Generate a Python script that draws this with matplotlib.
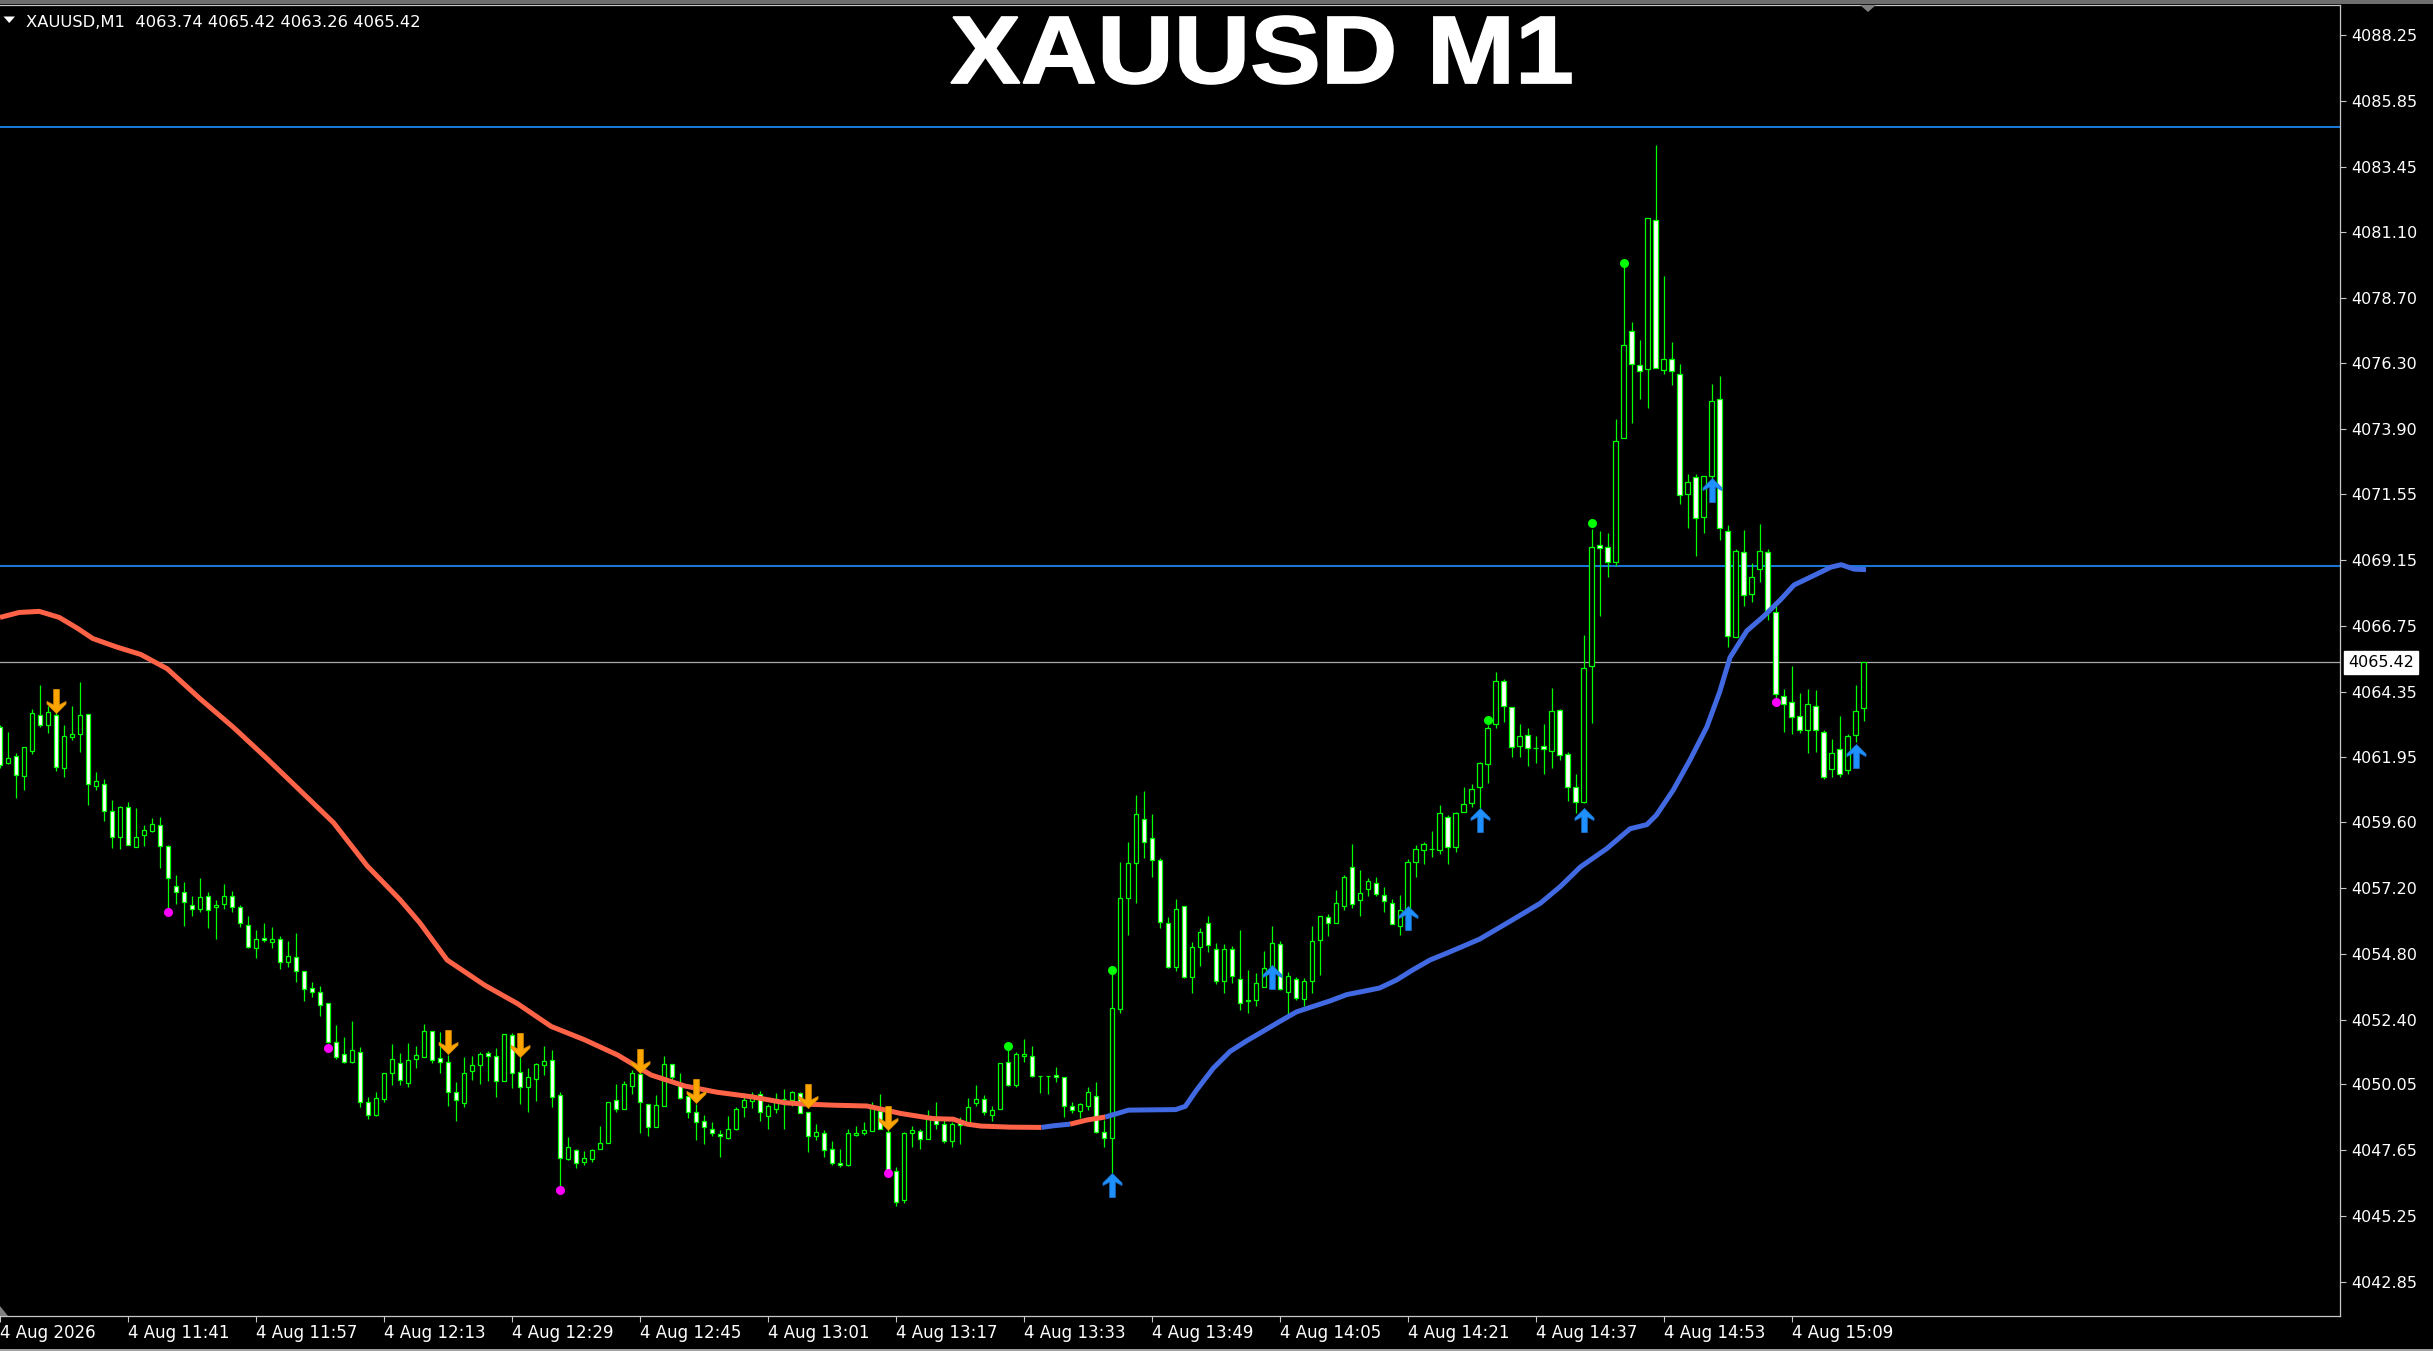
import numpy as np
import matplotlib.pyplot as plt
from matplotlib.path import Path
from matplotlib.patches import Polygon, PathPatch
from matplotlib.textpath import TextPath
from matplotlib.font_manager import FontProperties
from matplotlib.transforms import blended_transform_factory, Affine2D

symbol = 'XAUUSD'
period = 'M1'

# one-minute bars, first one at 11:25
opens = [4063.04, 4061.73, 4062.01, 4061.29, 4062.20, 4063.49, 4063.14, 4063.49, 4061.55, 4062.69,
         4062.81, 4063.53, 4060.90, 4060.97, 4059.99, 4059.04, 4060.15, 4058.69, 4059.13, 4059.27,
         4059.50, 4058.73, 4057.28, 4057.03, 4056.58, 4056.41, 4056.89, 4056.50, 4056.61, 4056.89,
         4056.51, 4055.85, 4055.00, 4055.38, 4055.24, 4055.32, 4054.51, 4054.69, 4054.16, 4053.56,
         4053.39, 4052.99, 4051.57, 4051.15, 4050.84, 4051.22, 4049.40, 4048.91, 4049.50, 4050.45,
         4050.82, 4050.09, 4050.96, 4051.05, 4051.99, 4050.99, 4050.84, 4049.77, 4049.37, 4050.52,
         4050.76, 4051.17, 4051.09, 4050.17, 4051.83, 4050.48, 4049.95, 4050.25, 4050.76, 4050.92,
         4049.64, 4047.33, 4047.63, 4047.21, 4047.31, 4047.70, 4047.92, 4049.46, 4049.13, 4049.99,
         4050.41, 4049.31, 4048.49, 4049.26, 4050.77, 4050.10, 4049.61, 4049.04, 4048.69, 4048.43,
         4048.22, 4048.10, 4048.43, 4049.22, 4049.44, 4049.68, 4048.89, 4049.13, 4049.49, 4049.47,
         4049.71, 4049.02, 4048.16, 4048.25, 4047.68, 4047.18, 4047.11, 4048.21, 4048.25, 4048.35,
         4049.08, 4048.32, 4046.89, 4045.81, 4048.25, 4048.33, 4048.05, 4048.74, 4048.61, 4047.98,
         4048.70, 4048.64, 4049.37, 4049.49, 4048.93, 4049.13, 4050.85, 4050.02, 4051.09, 4051.09,
         4050.34, 4050.34, 4050.37, 4050.30, 4049.25, 4049.05, 4049.25, 4049.63, 4048.31, 4048.10,
         4052.80, 4056.82, 4058.10, 4059.69, 4059.00, 4058.23, 4055.93, 4054.32, 4056.52, 4053.96,
         4055.05, 4055.91, 4054.96, 4053.81, 4054.96, 4053.86, 4053.10, 4053.13, 4053.59, 4053.84,
         4055.14, 4053.39, 4053.89, 4053.16, 4053.81, 4055.30, 4056.13, 4055.93, 4056.55, 4057.96,
         4056.74, 4057.15, 4057.37, 4056.93, 4056.66, 4055.82, 4056.39, 4058.14, 4058.59, 4058.61,
         4058.59, 4059.79, 4058.69, 4059.95, 4060.30, 4060.86, 4061.70, 4063.18, 4064.73, 4063.79,
         4062.35, 4062.78, 4062.31, 4062.35, 4062.20, 4063.69, 4062.07, 4060.86, 4060.34, 4065.27,
         4069.70, 4069.61, 4069.06, 4073.59, 4077.49, 4076.23, 4076.10, 4081.54, 4076.05, 4076.46,
         4075.93, 4071.56, 4072.16, 4070.71, 4072.21, 4075.00, 4070.21, 4066.33, 4069.43, 4067.92,
         4068.81, 4069.43, 4067.24, 4064.17, 4063.96, 4063.46, 4062.93, 4063.81, 4062.89, 4061.53,
         4062.24, 4061.50, 4062.75, 4063.74]
highs = [4063.13, 4062.86, 4062.11, 4062.32, 4063.70, 4064.58, 4063.84, 4063.60, 4063.14, 4063.84,
         4064.68, 4063.53, 4061.43, 4061.15, 4060.38, 4060.17, 4060.31, 4060.10, 4059.50, 4059.73,
         4059.78, 4058.77, 4057.65, 4057.42, 4056.89, 4057.56, 4057.03, 4056.75, 4057.35, 4057.08,
         4056.58, 4056.19, 4055.67, 4055.91, 4055.77, 4055.46, 4055.25, 4055.57, 4054.17, 4053.75,
         4053.64, 4053.02, 4052.19, 4051.77, 4052.33, 4051.40, 4049.58, 4049.75, 4050.47, 4051.52,
         4051.19, 4051.54, 4051.44, 4052.25, 4051.99, 4051.93, 4051.11, 4050.11, 4051.03, 4051.09,
         4051.21, 4051.26, 4051.36, 4051.87, 4051.90, 4051.05, 4050.62, 4050.81, 4051.44, 4051.30,
         4049.77, 4048.13, 4047.68, 4047.62, 4047.69, 4048.52, 4049.38, 4050.05, 4050.16, 4050.56,
         4050.93, 4049.31, 4049.65, 4051.08, 4050.79, 4050.44, 4049.71, 4049.34, 4048.92, 4048.68,
         4048.37, 4048.88, 4049.22, 4049.71, 4049.75, 4049.81, 4049.34, 4049.74, 4049.87, 4049.79,
         4049.77, 4049.04, 4048.61, 4048.39, 4047.97, 4047.70, 4048.43, 4048.52, 4048.67, 4049.38,
         4049.69, 4049.09, 4047.02, 4048.29, 4048.52, 4048.43, 4049.10, 4049.39, 4048.74, 4048.67,
         4048.86, 4049.53, 4050.02, 4049.65, 4049.25, 4050.81, 4051.29, 4051.20, 4051.70, 4051.44,
         4050.35, 4050.35, 4050.66, 4050.31, 4049.38, 4049.35, 4049.95, 4050.11, 4048.74, 4054.08,
         4058.14, 4058.87, 4060.58, 4060.73, 4059.88, 4058.29, 4056.13, 4056.78, 4056.53, 4055.24,
         4055.72, 4056.17, 4055.18, 4055.15, 4055.08, 4055.66, 4054.20, 4054.08, 4054.90, 4055.79,
         4055.26, 4054.12, 4053.96, 4053.90, 4055.81, 4056.17, 4056.25, 4057.13, 4057.65, 4058.81,
         4057.84, 4057.55, 4057.59, 4057.22, 4056.79, 4056.94, 4058.24, 4058.75, 4058.87, 4059.26,
         4060.21, 4059.85, 4059.95, 4060.86, 4060.97, 4061.77, 4063.13, 4065.07, 4064.80, 4063.79,
         4063.16, 4063.03, 4062.72, 4063.18, 4064.46, 4063.70, 4062.14, 4061.35, 4066.41, 4070.26,
         4070.18, 4070.12, 4074.28, 4079.81, 4077.82, 4077.17, 4081.61, 4084.27, 4079.50, 4077.08,
         4076.28, 4072.27, 4072.27, 4072.21, 4075.57, 4075.84, 4070.41, 4069.56, 4070.23, 4069.02,
         4070.44, 4069.56, 4067.45, 4064.44, 4065.29, 4064.31, 4064.44, 4064.40, 4062.96, 4062.63,
         4063.46, 4062.80, 4064.58, 4065.42]
lows = [4061.55, 4061.71, 4060.48, 4060.78, 4062.08, 4063.04, 4062.83, 4061.45, 4061.25, 4062.60,
        4062.15, 4060.20, 4060.78, 4059.64, 4058.66, 4058.62, 4058.75, 4058.69, 4058.73, 4059.22,
        4057.92, 4056.41, 4056.61, 4055.81, 4056.19, 4056.33, 4055.74, 4055.35, 4056.44, 4056.33,
        4055.77, 4055.02, 4054.65, 4055.22, 4055.01, 4054.23, 4054.31, 4053.78, 4053.06, 4053.22,
        4052.52, 4051.54, 4050.98, 4050.80, 4050.80, 4049.22, 4048.77, 4048.88, 4049.40, 4050.03,
        4050.03, 4049.94, 4050.63, 4051.05, 4050.83, 4050.44, 4049.26, 4048.71, 4049.22, 4050.20,
        4050.05, 4050.17, 4049.59, 4050.17, 4049.92, 4049.32, 4049.04, 4049.44, 4050.38, 4049.22,
        4046.32, 4047.29, 4046.98, 4047.09, 4047.20, 4047.70, 4047.92, 4049.04, 4049.13, 4049.69,
        4048.27, 4048.15, 4048.49, 4049.26, 4050.14, 4049.49, 4048.83, 4048.00, 4047.85, 4048.16,
        4047.41, 4048.03, 4048.39, 4048.86, 4049.19, 4048.71, 4048.43, 4048.98, 4048.43, 4049.25,
        4048.98, 4047.56, 4048.00, 4047.38, 4047.11, 4047.01, 4047.08, 4048.15, 4048.21, 4048.35,
        4048.42, 4046.81, 4045.62, 4045.73, 4047.76, 4047.70, 4048.05, 4048.42, 4047.91, 4047.74,
        4047.87, 4048.55, 4049.26, 4048.93, 4048.71, 4049.13, 4049.98, 4049.95, 4050.87, 4050.32,
        4049.71, 4049.69, 4050.14, 4048.86, 4048.98, 4048.80, 4049.10, 4048.27, 4047.76, 4046.81,
        4052.64, 4055.48, 4056.66, 4058.29, 4057.61, 4055.72, 4054.26, 4054.18, 4053.93, 4053.37,
        4054.35, 4054.87, 4053.71, 4053.35, 4053.74, 4052.76, 4052.64, 4052.88, 4053.59, 4053.77,
        4053.47, 4052.54, 4053.10, 4052.88, 4053.35, 4054.02, 4055.45, 4055.93, 4056.39, 4056.48,
        4056.17, 4056.91, 4056.91, 4056.30, 4055.87, 4055.48, 4056.27, 4057.61, 4058.06, 4058.33,
        4058.42, 4058.08, 4058.51, 4059.95, 4060.15, 4060.09, 4061.03, 4063.03, 4063.24, 4061.98,
        4061.98, 4061.62, 4061.76, 4061.34, 4061.58, 4061.84, 4060.37, 4059.93, 4060.30, 4063.19,
        4067.09, 4068.53, 4068.93, 4073.59, 4074.12, 4075.00, 4074.69, 4076.14, 4075.93, 4075.52,
        4071.19, 4070.32, 4069.29, 4070.14, 4071.77, 4069.87, 4065.98, 4066.33, 4067.45, 4067.61,
        4068.35, 4066.97, 4064.13, 4062.89, 4062.80, 4062.84, 4062.10, 4062.15, 4061.18, 4061.23,
        4061.23, 4061.35, 4062.51, 4063.26]
closes = [4061.67, 4061.94, 4061.32, 4062.32, 4063.57, 4063.14, 4063.62, 4061.60, 4062.72, 4062.79,
          4063.50, 4060.99, 4061.08, 4059.99, 4059.04, 4060.13, 4058.77, 4059.04, 4059.29, 4059.54,
          4058.73, 4057.56, 4057.04, 4056.68, 4056.44, 4056.86, 4056.38, 4056.58, 4056.89, 4056.50,
          4055.91, 4055.04, 4055.35, 4055.29, 4055.32, 4054.48, 4054.73, 4054.16, 4053.53, 4053.42,
          4052.92, 4051.59, 4051.05, 4050.87, 4051.29, 4049.40, 4048.94, 4049.54, 4050.47, 4050.96,
          4050.19, 4050.94, 4051.11, 4051.99, 4050.93, 4050.84, 4049.75, 4049.47, 4050.44, 4050.73,
          4051.14, 4051.09, 4050.16, 4051.87, 4050.44, 4049.95, 4050.30, 4050.77, 4050.88, 4049.57,
          4047.36, 4047.74, 4047.17, 4047.35, 4047.66, 4047.92, 4049.38, 4049.13, 4050.04, 4050.44,
          4049.38, 4048.47, 4049.29, 4050.77, 4050.30, 4049.53, 4049.02, 4048.65, 4048.47, 4048.25,
          4048.15, 4048.43, 4049.13, 4049.47, 4049.66, 4049.02, 4049.25, 4049.49, 4049.49, 4049.77,
          4048.98, 4048.17, 4048.31, 4047.64, 4047.17, 4047.09, 4048.28, 4048.26, 4048.37, 4049.20,
          4048.43, 4046.90, 4045.77, 4048.25, 4048.37, 4048.05, 4048.86, 4048.58, 4047.98, 4048.61,
          4048.54, 4049.22, 4049.49, 4049.04, 4049.09, 4050.81, 4050.03, 4051.15, 4051.14, 4050.35,
          4050.34, 4050.34, 4050.30, 4049.25, 4049.09, 4049.31, 4049.77, 4048.31, 4048.07, 4052.83,
          4056.82, 4058.10, 4059.87, 4058.85, 4058.20, 4055.97, 4054.32, 4056.42, 4053.96, 4055.05,
          4055.60, 4055.10, 4053.81, 4054.96, 4053.99, 4053.01, 4053.07, 4053.74, 4054.26, 4055.18,
          4053.53, 4053.99, 4053.20, 4053.80, 4055.27, 4056.17, 4055.91, 4056.64, 4057.59, 4056.60,
          4057.00, 4057.43, 4056.97, 4056.71, 4055.87, 4056.39, 4058.14, 4058.63, 4058.78, 4058.61,
          4059.91, 4058.67, 4059.93, 4060.27, 4060.79, 4061.74, 4063.03, 4064.73, 4063.81, 4062.32,
          4062.72, 4062.29, 4062.31, 4062.25, 4063.63, 4062.02, 4060.88, 4060.34, 4065.19, 4069.61,
          4069.57, 4069.06, 4073.48, 4076.99, 4076.28, 4076.01, 4081.61, 4076.14, 4076.46, 4076.01,
          4071.50, 4072.00, 4070.67, 4072.21, 4074.95, 4070.30, 4066.38, 4069.47, 4067.87, 4068.53,
          4069.47, 4067.27, 4064.26, 4063.90, 4063.41, 4062.93, 4063.90, 4062.93, 4061.23, 4062.12,
          4061.35, 4062.72, 4063.64, 4065.42]

time_ticks = [0, 16, 32, 48, 64, 80, 96, 112, 128, 144, 160, 176, 192, 208, 224]
time_labels = ['4 Aug 2026', '4 Aug 11:41', '4 Aug 11:57', '4 Aug 12:13', '4 Aug 12:29',
               '4 Aug 12:45', '4 Aug 13:01', '4 Aug 13:17', '4 Aug 13:33', '4 Aug 13:49',
               '4 Aug 14:05', '4 Aug 14:21', '4 Aug 14:37', '4 Aug 14:53', '4 Aug 15:09']
price_ticks = [4088.25, 4085.85, 4083.45, 4081.10, 4078.70, 4076.30, 4073.90, 4071.55, 4069.15,
               4066.75, 4064.35, 4061.95, 4059.60, 4057.20, 4054.80, 4052.40, 4050.05, 4047.65,
               4045.25, 4042.85]

# trend line (at these bar positions)
ma_bar = [0, 2.4, 4.9, 7.4, 9.7, 11.6, 14.6, 17.6, 20.9, 25, 29.2, 33.4, 37.5, 41.7, 45.9, 50,
          52.5, 55.9, 60.6, 64.7, 68.9, 73.1, 77.2, 81.4, 85.6, 89.7, 93.9, 98.1, 100.6, 104.2,
          108.4, 112.6, 116.7, 119.2, 120.9, 122.6, 126.3, 130.2, 131.7, 133.8, 135.9, 138.2,
          141.1, 147.0, 148.2, 149.6, 151.7, 153.8, 155.9, 157.9, 160, 162.1, 164.2, 166.3, 168.4,
          170.5, 172.5, 174.6, 176.7, 178.8, 180.9, 183, 185, 188.4, 192.6, 195.1, 197.6, 200.9,
          203.8, 205.9, 207.1, 209.2, 211.3, 213.4, 215, 216.3, 218.4, 220.5, 222.6, 224.3, 226.8,
          228.9, 230.2, 231.8, 233.3]
ma_val = [4067.05, 4067.23, 4067.27, 4067.05, 4066.65, 4066.28, 4065.97, 4065.70, 4065.18,
          4064.09, 4063.04, 4061.90, 4060.75, 4059.57, 4058.00, 4056.77, 4055.92, 4054.57,
          4053.65, 4052.98, 4052.15, 4051.66, 4051.11, 4050.38, 4049.98, 4049.75, 4049.59,
          4049.37, 4049.32, 4049.28, 4049.25, 4048.98, 4048.79, 4048.77, 4048.59, 4048.52,
          4048.48, 4048.47, 4048.53, 4048.59, 4048.74, 4048.85, 4049.10, 4049.12, 4049.24,
          4049.83, 4050.63, 4051.24, 4051.63, 4051.97, 4052.33, 4052.68, 4052.88, 4053.08,
          4053.31, 4053.43, 4053.55, 4053.84, 4054.22, 4054.57, 4054.82, 4055.08, 4055.33,
          4055.91, 4056.64, 4057.25, 4057.96, 4058.63, 4059.35, 4059.50, 4059.85, 4060.76,
          4061.86, 4063.06, 4064.33, 4065.59, 4066.56, 4067.09, 4067.69, 4068.23, 4068.58,
          4068.88, 4068.97, 4068.81, 4068.79]
ma_segments = [(0, 130.2, 'tomato'), (130.2, 133.8, 'royalblue'),
               (133.8, 138.2, 'tomato'), (138.2, 233.3, 'royalblue')]

level_lines = [4084.91, 4068.91]

buy_bars = [139, 159, 176, 185, 198, 214, 232]
buy_tips = [4046.81, 4054.38, 4056.54, 4060.10, 4060.09, 4072.13, 4062.42]
sell_bars = [7, 56, 65, 80, 87, 101, 111]
sell_tips = [4063.57, 4051.14, 4051.03, 4050.44, 4049.35, 4049.16, 4048.39]

low_dot_bars = [21, 41, 70, 111, 222]
low_dot_vals = [4056.30, 4051.36, 4046.20, 4046.81, 4063.96]
high_dot_bars = [126, 139, 186, 199, 203]
high_dot_vals = [4051.42, 4054.20, 4063.30, 4070.48, 4079.95]

W, H = 2433, 1351
fig = plt.figure(figsize=(W / 100, H / 100), dpi=100, facecolor='black')
ax = fig.add_axes([0, 35 / H, 2340 / W, 1311 / H])
ax.set_facecolor('black')

def fpx(x, y):
    # pixel (from top-left) -> figure fraction
    return (x / W, 1 - y / H)

o = np.array(opens)
h = np.array(highs)
l = np.array(lows)
c = np.array(closes)
x = np.arange(len(o))

for lv in level_lines:
    ax.axhline(lv, color='#1E90FF', lw=1.2, zorder=1)
ax.axhline(c[-1], color='#A8A8A8', lw=0.9, zorder=1)

ax.vlines(x, l, h, color='#00FF00', lw=0.9, zorder=2)
face = np.where(c >= o, 'black', 'white')
ax.bar(x, np.abs(c - o), bottom=np.minimum(o, c), width=0.55, color=face,
       edgecolor='#00FF00', linewidth=0.9, zorder=3)

mb = np.array(ma_bar)
mv = np.array(ma_val)
for a, b, col in ma_segments:
    m = (mb >= a) & (mb <= b)
    ax.plot(mb[m], mv[m], color=col, lw=3.6, solid_capstyle='butt', zorder=4)

# arrow markers, tip at the origin (pixel units)
up = [(0, 0), (9.5, -9.5), (9.5, -12), (2.8, -8.5), (2.8, -24), (-2.8, -24), (-2.8, -8.5),
      (-9.5, -12), (-9.5, -9.5), (0, 0)]
up_path = Path(up, [Path.MOVETO] + [Path.LINETO] * 8 + [Path.CLOSEPOLY])
down_path = Path([(px, -py) for px, py in up], up_path.codes)
ms_arrow = 2 * 24 * 0.72
ax.plot(buy_bars, buy_tips, ls='none', marker=up_path, ms=ms_arrow,
        mfc='#1E90FF', mec='#1C6FC8', mew=0.6, zorder=6)
ax.plot(sell_bars, sell_tips, ls='none', marker=down_path, ms=ms_arrow,
        mfc='#FFA500', mec='#D98C00', mew=0.6, zorder=6)

ax.plot(low_dot_bars, low_dot_vals, 'o', ms=6.5, color='#FF00FF', mec='none', zorder=6)
ax.plot(high_dot_bars, high_dot_vals, 'o', ms=6.5, color='#00FF00', mec='none', zorder=6)

ax.set_xlim(0.0625, 292.5625)
ax.set_ylim(4041.60, 4089.36)

ax.yaxis.tick_right()
ax.set_yticks(price_ticks)
ax.set_yticklabels([f'{p:.2f}' for p in price_ticks])
ax.tick_params(axis='y', direction='out', length=4, width=0.8, color='#C8C8C8',
               labelcolor='white', labelsize=11.5, pad=4)
ax.set_xticks(time_ticks)
ax.set_xticklabels(time_labels)
for t in ax.get_xticklabels():
    t.set_horizontalalignment('left')
ax.tick_params(axis='x', direction='out', length=4, width=0.8, color='#C8C8C8',
               labelcolor='white', labelsize=12, pad=2)

ax.spines['left'].set_visible(False)
for s in ['top', 'right', 'bottom']:
    ax.spines[s].set_color('#C8C8C8')
    ax.spines[s].set_linewidth(0.9)

# current price tag
tr = blended_transform_factory(ax.transAxes, ax.transData)
ax.text(1.0035, c[-1], f'{c[-1]:.2f}', transform=tr, ha='left', va='center', fontsize=11.5,
        color='black', bbox=dict(boxstyle='square,pad=0.25', fc='white', ec='white'),
        clip_on=False, zorder=10)

# header line
header = f'{symbol},{period}  {o[-1]:.2f} {h[-1]:.2f} {l[-1]:.2f} {c[-1]:.2f}'
fig.text(*fpx(26, 27), header, ha='left', va='baseline', fontsize=11.8, color='white')
fig.add_artist(Polygon([fpx(3.5, 16.5), fpx(15, 16.5), fpx(9.25, 23)], closed=True,
                       transform=fig.transFigure, fc='white', ec='none'))

# big title, stretched to the box it fills in the chart
tp = TextPath((0, 0), f'{symbol} {period}', size=100,
              prop=FontProperties(family='Liberation Sans', weight='bold'))
ext = tp.get_extents()
tw, th = 620, 68
sx, sy = tw / ext.width, th / ext.height
x0, y0 = 951, H - 84
tt = Affine2D().translate(-ext.x0, -ext.y0).scale(sx / W, sy / H).translate(x0 / W, y0 / H)
fig.add_artist(PathPatch(tp, transform=tt + fig.transFigure, fc='white', ec='white', lw=1.2))

# chart shift markers and frame
fig.add_artist(Polygon([fpx(1860, 5), fpx(1876, 5), fpx(1868, 12)], closed=True,
                       transform=fig.transFigure, fc='#808080', ec='none'))
fig.add_artist(Polygon([fpx(0, 1316), fpx(8, 1316), fpx(0, 1306)], closed=True,
                       transform=fig.transFigure, fc='#808080', ec='none'))
fig.add_artist(Polygon([fpx(0, 0), fpx(W, 0), fpx(W, 4), fpx(0, 4)], closed=True,
                       transform=fig.transFigure, fc='#6E6E6E', ec='none'))
fig.add_artist(Polygon([fpx(0, 1349), fpx(W, 1349), fpx(W, 1351), fpx(0, 1351)], closed=True,
                       transform=fig.transFigure, fc='#A0A0A0', ec='none'))

fig.savefig('out.png', dpi=100, facecolor='black')
